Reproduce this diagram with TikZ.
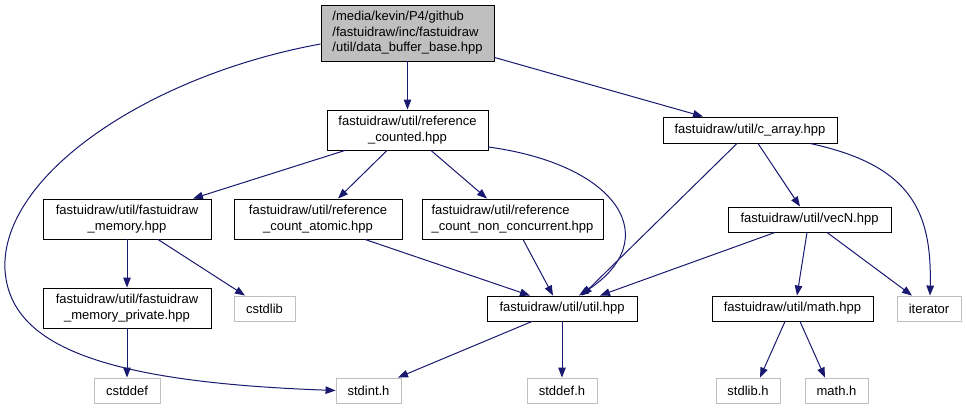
\documentclass[tikz,border=0pt]{standalone}
\usepackage{fontspec}
\setmainfont{Liberation Sans}
\usetikzlibrary{arrows.meta}
\definecolor{edgeblue}{HTML}{191970}
\definecolor{greyext}{HTML}{BFBFBF}
\tikzset{
  box/.style={draw=black, line width=0.9pt, fill=white, inner sep=0pt, align=center,
    font=\fontsize{13}{15.5}\selectfont},
  extbox/.style={box, draw=greyext},
  dep/.style={draw=edgeblue, line width=1pt, -{Triangle[length=10pt,width=7.5pt]}, fill=none},
}
\begin{document}
\begin{tikzpicture}[x=1pt,y=-1pt]
\useasboundingbox (0,0) rectangle (966,409);
\fill[white] (0,0) rectangle (966,409);

\node[box, fill=greyext, align=left, minimum width=173pt, minimum height=56pt] (top) at (407.5,33)
  {/media/kevin/P4/github\\/fastuidraw/inc/fastuidraw\\/util/data\_buffer\_base.hpp};
\node[box, minimum width=161pt, minimum height=40pt] (rc) at (407.5,130)
  {fastuidraw/util/reference\\\_counted.hpp};
\node[box, minimum width=174pt, minimum height=26pt] (ca) at (750,130)
  {fastuidraw/util/c\_array.hpp};
\node[box, minimum width=168pt, minimum height=40pt] (fmem) at (127,219)
  {fastuidraw/util/fastuidraw\\\_memory.hpp};
\node[box, minimum width=168pt, minimum height=40pt] (atomic) at (318,219)
  {fastuidraw/util/reference\\\_count\_atomic.hpp};
\node[box, align=left, minimum width=181pt, minimum height=40pt] (nonconc) at (512.5,219)
  {fastuidraw/util/reference\\\_count\_non\_concurrent.hpp};
\node[box, minimum width=163pt, minimum height=25pt] (vecn) at (809.5,219.5)
  {fastuidraw/util/vecN.hpp};
\node[box, minimum width=168pt, minimum height=40pt] (fpriv) at (127,308)
  {fastuidraw/util/fastuidraw\\\_memory\_private.hpp};
\node[extbox, minimum width=61pt, minimum height=25pt] (cstdlib) at (264.5,308.5) {cstdlib};
\node[box, minimum width=150pt, minimum height=25pt] (util) at (562,308.5)
  {fastuidraw/util/util.hpp};
\node[box, minimum width=161pt, minimum height=25pt] (math) at (792.5,308.5)
  {fastuidraw/util/math.hpp};
\node[extbox, minimum width=64pt, minimum height=25pt] (iter) at (929,308.5) {iterator};
\node[extbox, minimum width=66pt, minimum height=25pt] (cstddef) at (127,390.5) {cstddef};
\node[extbox, minimum width=65pt, minimum height=25pt] (stdint) at (368.5,390.5) {stdint.h};
\node[extbox, minimum width=70pt, minimum height=25pt] (stddef) at (562,390.5) {stddef.h};
\node[extbox, minimum width=64pt, minimum height=25pt] (stdlib) at (748,390.5) {stdlib.h};
\node[extbox, minimum width=63pt, minimum height=25pt] (mathh) at (836.5,390.5) {math.h};

% edges
\draw[dep] (top.south) -- (rc.north);
\draw[dep] ([yshift=4pt]top.south east) -- ([xshift=-47pt]ca.north);
\draw[dep] ([yshift=-11pt]top.west) .. controls (150,75) and (0,175) .. (5,270)
  .. controls (10,345) and (100,382) .. (stdint.west);
\draw[dep] ([xshift=-62.5pt]rc.south) -- ([xshift=66pt]fmem.north);
\draw[dep] ([xshift=-20.5pt]rc.south) -- ([xshift=20pt]atomic.north);
\draw[dep] ([xshift=23.5pt]rc.south) -- ([xshift=-25.5pt]nonconc.north);
\draw[dep] ([yshift=-17pt]rc.east) .. controls (620,165) and (665,240) .. ([xshift=17pt]util.north);
\draw[dep] ([xshift=-13pt]ca.south) -- ([xshift=20pt]util.north);
\draw[dep] ([xshift=8pt]ca.south) -- ([xshift=-9.5pt]vecn.north);
\draw[dep] ([xshift=60pt]ca.south) .. controls (910,165) and (932,210) .. ([xshift=1pt]iter.north);
\draw[dep] (fmem.south) -- (fpriv.north);
\draw[dep] ([xshift=31pt]fmem.south) -- ([xshift=-19.5pt]cstdlib.north);
\draw[dep] ([xshift=47pt]atomic.south) -- ([xshift=-32pt]util.north);
\draw[dep] ([xshift=10.5pt]nonconc.south) -- ([xshift=-9pt]util.north);
\draw[dep] ([xshift=-34.5pt]vecn.south) -- ([xshift=38pt]util.north);
\draw[dep] ([xshift=-2.5pt]vecn.south) -- ([xshift=4.5pt]math.north);
\draw[dep] ([xshift=17.5pt]vecn.south) -- ([xshift=-17pt]iter.north);
\draw[dep] (fpriv.south) -- (cstddef.north);
\draw[dep] ([xshift=-30pt]util.south) -- ([xshift=29.5pt]stdint.north);
\draw[dep] (util.south) -- (stddef.north);
\draw[dep] ([xshift=-7.5pt]math.south) -- ([xshift=12pt]stdlib.north);
\draw[dep] ([xshift=7.5pt]math.south) -- ([xshift=-11.5pt]mathh.north);
\end{tikzpicture}
\end{document}
